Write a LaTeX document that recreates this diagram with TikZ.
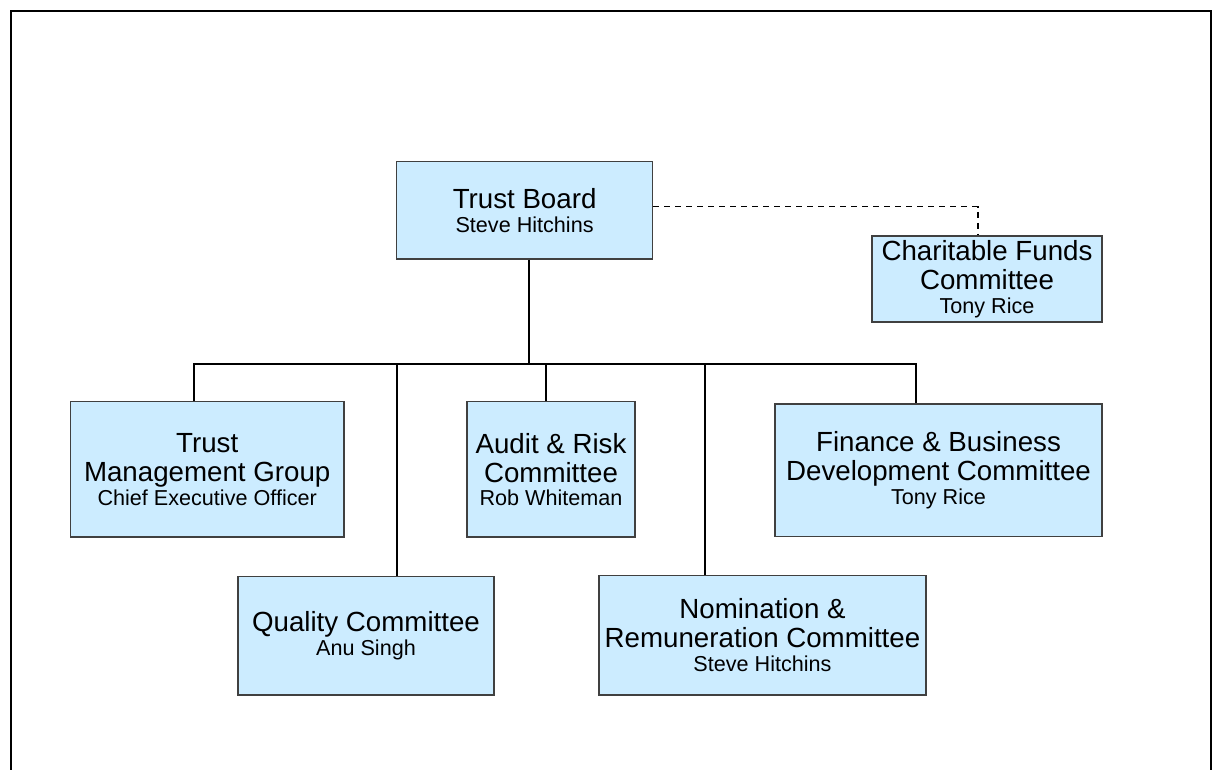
\documentclass[tikz,border=0pt]{standalone}
\usepackage{fontspec}
\setmainfont{Liberation Sans}
\definecolor{boxblue}{RGB}{204,236,255}
\newcommand\namefont{\fontsize{21.6}{23.5}\selectfont}

\begin{document}
\begin{tikzpicture}[
  x = 1pt, y = -1pt,
  unit/.style = {draw=black!75,line width=1.2pt,fill=boxblue,align=center,inner sep=0pt,
    font=\fontsize{27.7}{29}\selectfont},
  link/.style = {line width=1.4pt},
  ]
  \useasboundingbox (0,0) rectangle (1212,769);
  \draw[line width=2.2pt] (11,790) -- (11,11) -- (1211,11) -- (1211,790);
  % boxes
  \node[unit,minimum width=256pt,minimum height=97.3pt] (board) at (524.6,210.4) {Trust Board\\[-5.5pt]{\namefont Steve Hitchins}};
  \node[unit,minimum width=230pt,minimum height=86pt] (charity) at (987,279) {Charitable Funds\\Committee\\[-5.5pt]{\namefont Tony Rice}};
  \node[unit,minimum width=273.6pt,minimum height=135.3pt] (tmg) at (207.2,469.4) {Trust\\Management Group\\[-5.5pt]{\namefont Chief Executive Officer}};
  \node[unit,minimum width=168pt,minimum height=135.3pt] (audit) at (551,469.4) {Audit \& Risk\\Committee\\[-5.5pt]{\namefont Rob Whiteman}};
  \node[unit,minimum width=327pt,minimum height=132.7pt] (fin) at (938.5,470.4) {Finance \& Business\\Development Committee\\[-5.5pt]{\namefont Tony Rice}};
  \node[unit,minimum width=256pt,minimum height=118.5pt] (quality) at (366,635.8) {Quality Committee\\[-5.5pt]{\namefont Anu Singh}};
  \node[unit,minimum width=327pt,minimum height=119.5pt] (nom) at (762.5,635.3) {Nomination \&\\Remuneration Committee\\[-5.5pt]{\namefont Steve Hitchins}};
  % junctions on the bus
  \coordinate (bus) at (529,364);
  \coordinate (j-tmg) at (194,364);
  \coordinate (j-quality) at (397,364);
  \coordinate (j-audit) at (546,364);
  \coordinate (j-nom) at (705,364);
  \coordinate (j-fin) at (916,364);
  \coordinate (fund) at (978,206.7);
  % connectors
  \draw[link] (board.south -| bus) -- (bus);
  \draw[link] (j-tmg |- tmg.north) -- (j-tmg) -- (j-fin) -- (j-fin |- fin.north);
  \draw[link] (j-quality) -- (j-quality |- quality.north);
  \draw[link] (j-audit) -- (j-audit |- audit.north);
  \draw[link] (j-nom) -- (j-nom |- nom.north);
  \draw[line width=1.2pt,dash pattern=on 6pt off 5pt] (board.east |- fund) -- (fund) -- (fund |- charity.north);
\end{tikzpicture}
\end{document}
